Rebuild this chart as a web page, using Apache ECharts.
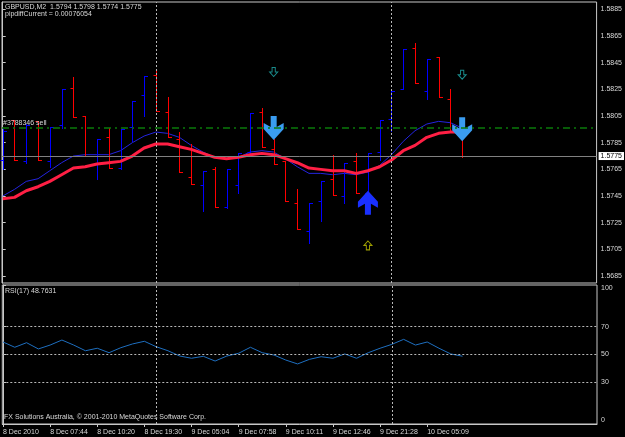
<!DOCTYPE html>
<html>
<head>
<meta charset="utf-8">
<script src="https://cdn.jsdelivr.net/npm/echarts@6/dist/echarts.min.js"></script>
<style>
html, body { margin: 0; padding: 0; background: #000; }
#main { width: 625px; height: 437px; }
</style>
</head>
<body>
<div id="main"></div>
<script>
// GBPUSD M2 bars (open / high / low / close)
let opens  = [1.5772,1.5802,1.5771,1.5801,1.5771,1.5798,1.5826,1.5805,1.5775,1.5789,
              1.5766,1.5797,1.5821,1.5836,1.5808,1.5788,1.5759,1.5753,1.5765,1.5737,
              1.5753,1.5778,1.5808,1.5780,1.5771,1.5740,1.5719,1.5741,1.5758,1.5745,
              1.5771,1.5747,1.5778,1.5803,1.5825,1.5856,1.5824,1.5849,1.5818,1.5794];
let highs  = [1.5795,1.5802,1.5799,1.5801,1.5797,1.5825,1.5834,1.5805,1.5788,1.5796,
              1.5795,1.5816,1.5835,1.5839,1.5819,1.5793,1.5784,1.5764,1.5767,1.5765,
              1.5777,1.5807,1.5811,1.5788,1.5771,1.5750,1.5740,1.5756,1.5776,1.5770,
              1.5777,1.5777,1.5802,1.5824,1.5855,1.5860,1.5848,1.5849,1.5825,1.5798];
let lows   = [1.5765,1.5772,1.5770,1.5772,1.5767,1.5796,1.5804,1.5775,1.5758,1.5766,
              1.5765,1.5786,1.5805,1.5809,1.5789,1.5763,1.5754,1.5734,1.5737,1.5736,
              1.5747,1.5777,1.5782,1.5769,1.5741,1.5720,1.5710,1.5726,1.5746,1.5740,
              1.5747,1.5746,1.5772,1.5794,1.5825,1.5830,1.5818,1.5819,1.5794,1.5774];
let closes = [1.5794,1.5772,1.5798,1.5772,1.5797,1.5825,1.5804,1.5775,1.5788,1.5766,
              1.5795,1.5816,1.5835,1.5809,1.5789,1.5763,1.5754,1.5764,1.5737,1.5765,
              1.5777,1.5807,1.5782,1.5769,1.5741,1.5720,1.5740,1.5756,1.5746,1.5770,
              1.5747,1.5777,1.5802,1.5824,1.5855,1.5830,1.5848,1.5819,1.5794,1.5775];

// moving averages
let maRed  = [1.5743,1.5744,1.5749,1.5752,1.5756,1.5761,1.5766,1.5767,1.5769,1.5770,
              1.5771,1.5775,1.5781,1.5784,1.5784,1.5782,1.5780,1.5777,1.5774,1.5773,
              1.5774,1.5776,1.5777,1.5776,1.5773,1.5770,1.5766,1.5765,1.5764,1.5764,
              1.5762,1.5764,1.5767,1.5772,1.5779,1.5783,1.5789,1.5792,1.5793,1.5793];
let maBlue = [1.5745,1.5750,1.5756,1.5758,1.5764,1.5770,1.5775,1.5776,1.5776,1.5776,
              1.5779,1.5785,1.5790,1.5793,1.5792,1.5789,1.5783,1.5778,1.5774,1.5773,
              1.5774,1.5778,1.5779,1.5778,1.5773,1.5767,1.5762,1.5762,1.5761,1.5762,
              1.5761,1.5763,1.5768,1.5776,1.5786,1.5794,1.5799,1.5801,1.5800,1.5796];

// RSI(17)
let rsi = [59.0,55.2,58.5,54.0,56.8,60.4,56.8,52.7,54.5,51.3,
           54.9,57.6,59.5,55.6,52.7,48.9,47.3,48.7,45.3,48.9,
           50.9,55.2,51.3,49.6,46.0,43.2,46.5,48.4,47.3,50.4,
           47.3,51.3,54.5,57.3,60.9,56.8,59.0,54.5,50.4,48.7631];

// signal arrows [bar index, price]
let bigDown   = [[23, 1.5796], [39, 1.5795]];
let bigUp     = [[31, 1.5740]];
let smallDown = [[23, 1.5838], [39, 1.5836]];
let smallUp   = [[31, 1.5708]];

let timeLabels = ['8 Dec 2010','8 Dec 07:44','8 Dec 10:20','8 Dec 19:30','9 Dec 05:04',
                  '9 Dec 07:58','9 Dec 10:11','9 Dec 12:46','9 Dec 21:28','10 Dec 05:09'];
let timeTicks = [0,4,8,12,16,20,24,28,32,36];
let priceTicks = [1.5685,1.5705,1.5725,1.5745,1.5765,1.5785,1.5805,1.5825,1.5845,1.5865,1.5885];
let rsiTicks = [0,30,50,70,100];
let separators = [13, 33];
let orderPrice = 1.5796;
let bidPrice = 1.5775;

let fontFam = 'Liberation Sans, Arial, sans-serif';
let textCol = '#d8d8d8';
let frameCol = '#c8c8c8';

let last = opens.length - 1;
let ohlcData = opens.map((o, i) => [i, o, highs[i], lows[i], closes[i]]);
let pts = arr => arr.map((v, i) => [i, v]);

function renderBar(params, api) {
    let x = api.value(0);
    let o = api.coord([x, api.value(1)]);
    let h = api.coord([x, api.value(2)]);
    let l = api.coord([x, api.value(3)]);
    let c = api.coord([x, api.value(4)]);
    let px = Math.round(h[0]) + 0.5;
    let oy = Math.round(o[1]) + 0.5;
    let cy = Math.round(c[1]) + 0.5;
    let color = api.value(4) >= api.value(1) ? '#0000ff' : '#ff0000';
    let st = { stroke: color, lineWidth: 1, opacity: 1 };
    return {
        type: 'group',
        children: [
            { type: 'line', shape: { x1: px, y1: Math.round(h[1]), x2: px, y2: Math.round(l[1]) + 1 }, style: st },
            { type: 'line', shape: { x1: px - 3, y1: oy, x2: px, y2: oy }, style: st },
            { type: 'line', shape: { x1: px, y1: cy, x2: px + 3.5, y2: cy }, style: st }
        ]
    };
}

let sepLines = separators.map(s => ({ xAxis: s }));

let chart = echarts.init(document.getElementById('main'));
let option = {
    backgroundColor: '#000000',
    animation: false,
    textStyle: { fontFamily: fontFam },
    graphic: [
        { type: 'text', left: 5, top: 4,
          style: { text: 'GBPUSD,M2  ' + [opens[last], highs[last], lows[last], closes[last]].map(v => v.toFixed(4)).join(' '),
                   fill: textCol, font: '7px ' + fontFam } },
        { type: 'text', left: 5, top: 11,
          style: { text: 'pipdiffCurrent = 0.00076054', fill: textCol, font: '7px ' + fontFam } },
        { type: 'text', left: 5, top: 288,
          style: { text: 'RSI(17) ' + rsi[last].toFixed(4), fill: textCol, font: '7px ' + fontFam } },
        { type: 'text', left: 4, top: 414,
          style: { text: 'FX Solutions Australia, © 2001-2010 MetaQuotes Software Corp.', fill: textCol, font: '7px ' + fontFam } }
    ],
    grid: [
        { left: 2, top: 2, right: 28, height: 281, show: true, borderColor: frameCol, borderWidth: 1, backgroundColor: '#000' },
        { left: 2, top: 285, right: 28, height: 139, show: true, borderColor: frameCol, borderWidth: 1, backgroundColor: '#000' }
    ],
    xAxis: [
        { type: 'value', gridIndex: 0, min: -0.06, max: 50.41, show: false },
        { type: 'value', gridIndex: 1, min: -0.06, max: 50.41,
          axisLine: { show: true, lineStyle: { color: frameCol } },
          axisTick: { show: true, customValues: timeTicks, length: 3, lineStyle: { color: frameCol } },
          axisLabel: { customValues: timeTicks, formatter: v => timeLabels[Math.round(v / 4)] || '',
                       align: 'left', color: textCol, fontSize: 7, margin: 5 },
          splitLine: { show: false } }
    ],
    yAxis: [
        { type: 'value', gridIndex: 0, position: 'right', min: 1.56798, max: 1.58905, scale: true,
          axisLine: { show: true, lineStyle: { color: frameCol } },
          axisTick: { show: true, customValues: priceTicks, length: 3, lineStyle: { color: frameCol } },
          axisLabel: { customValues: priceTicks, formatter: v => v.toFixed(4), color: textCol, fontSize: 7, margin: 4 },
          splitLine: { show: false } },
        { type: 'value', gridIndex: 1, position: 'right', min: 0, max: 100,
          axisLine: { show: true, lineStyle: { color: frameCol } },
          axisTick: { show: true, customValues: rsiTicks, length: 3, lineStyle: { color: frameCol } },
          axisLabel: { customValues: rsiTicks, color: textCol, fontSize: 7, margin: 4,
                       verticalAlignMinLabel: 'bottom', verticalAlignMaxLabel: 'top' },
          splitLine: { show: false } }
    ],
    series: [
        {
            name: 'MA slow', type: 'line', xAxisIndex: 0, yAxisIndex: 0,
            data: pts(maBlue), showSymbol: false, symbol: 'none', z: 1,
            lineStyle: { color: '#2424e0', width: 1 },
            markLine: {
                silent: true, symbol: ['none', 'none'], animation: false, precision: 5,
                label: { show: false },
                lineStyle: { color: '#b8b8b8', type: [2, 2], width: 1 },
                data: sepLines.concat([
                    { yAxis: orderPrice,
                      lineStyle: { color: '#0a7a0a', type: [7, 4, 2, 4], width: 1.5 },
                      label: { show: true, position: 'insideStartTop', formatter: '#3788346 sell',
                               color: textCol, fontSize: 7, distance: 1 } },
                    { yAxis: bidPrice,
                      lineStyle: { color: '#808080', type: 'solid', width: 1 },
                      label: { show: true, position: 'end', formatter: bidPrice.toFixed(4),
                               color: '#000', backgroundColor: '#ffffff', fontSize: 7,
                               padding: [1, 2, 0, 2], distance: 2 } }
                ])
            }
        },
        {
            name: 'bars', type: 'custom', xAxisIndex: 0, yAxisIndex: 0, z: 2,
            renderItem: renderBar, data: ohlcData,
            encode: { x: 0, y: [1, 2, 3, 4] }
        },
        {
            name: 'MA fast', type: 'line', xAxisIndex: 0, yAxisIndex: 0, z: 3,
            data: pts(maRed), showSymbol: false, symbol: 'none',
            lineStyle: { color: '#ff1f44', width: 3 }
        },
        {
            name: 'sell signal', type: 'scatter', xAxisIndex: 0, yAxisIndex: 0, data: bigDown, z: 4,
            symbol: 'path://M7,0 L13,0 L13,11 L20,7 L20,13 L10,24 L0,13 L0,7 L7,11 Z',
            symbolSize: [20, 24], itemStyle: { color: '#3a9cf0', opacity: 1 }
        },
        {
            name: 'buy signal', type: 'scatter', xAxisIndex: 0, yAxisIndex: 0, data: bigUp, z: 4,
            symbol: 'path://M7,24 L13,24 L13,13 L20,17 L20,11 L10,0 L0,11 L0,17 L7,13 Z',
            symbolSize: [20, 24], itemStyle: { color: '#1a30ff', opacity: 1 }
        },
        {
            name: 'down mark', type: 'scatter', xAxisIndex: 0, yAxisIndex: 0, data: smallDown, z: 4,
            symbol: 'path://M3,0 L7,0 L7,6 L10,6 L5,12 L0,6 L3,6 Z',
            symbolSize: [8, 9], itemStyle: { color: 'rgba(0,0,0,0)', borderColor: '#20b0b0', borderWidth: 1 }
        },
        {
            name: 'up mark', type: 'scatter', xAxisIndex: 0, yAxisIndex: 0, data: smallUp, z: 4,
            symbol: 'path://M3,12 L7,12 L7,6 L10,6 L5,0 L0,6 L3,6 Z',
            symbolSize: [8, 9], itemStyle: { color: 'rgba(0,0,0,0)', borderColor: '#c8c800', borderWidth: 1 }
        },
        {
            name: 'RSI', type: 'line', xAxisIndex: 1, yAxisIndex: 1,
            data: pts(rsi), showSymbol: false, symbol: 'none',
            lineStyle: { color: '#1e6fc0', width: 1 },
            markLine: {
                silent: true, symbol: ['none', 'none'], animation: false, precision: 2,
                label: { show: false },
                lineStyle: { color: '#b8b8b8', type: [2, 2], width: 1 },
                data: sepLines.concat([
                    { yAxis: 30 }, { yAxis: 50 }, { yAxis: 70 }
                ])
            }
        }
    ]
};
chart.setOption(option);
</script>
</body>
</html>
